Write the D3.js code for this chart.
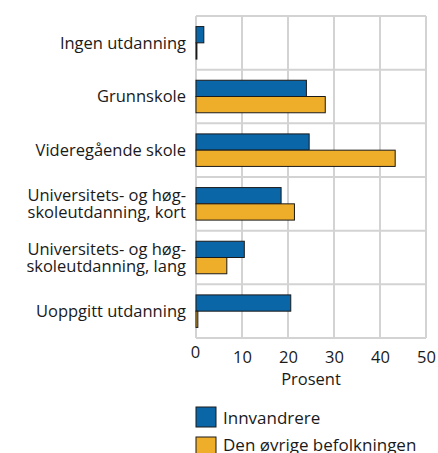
<!DOCTYPE html>
<html>
<head>
<meta charset="utf-8">
<script src="https://cdn.jsdelivr.net/npm/d3@7"></script>
<style>
  body { margin: 0; background: #fff; }
  text { font-family: "Open Sans", "Noto Sans", sans-serif; fill: #1a1a1a; }
</style>
</head>
<body>
<svg id="chart" width="438" height="453"></svg>
<script>
const categories = [
  ['Ingen utdanning'],
  ['Grunnskole'],
  ['Videregående skole'],
  ['Universitets- og høg-', 'skoleutdanning, kort'],
  ['Universitets- og høg-', 'skoleutdanning, lang'],
  ['Uoppgitt utdanning']
];
const seriesNames = ['Innvandrere', 'Den øvrige befolkningen'];
const innvandrere = [1.7, 24.0, 24.6, 18.5, 10.5, 20.6];
const ovrige = [0.2, 28.1, 43.3, 21.4, 6.7, 0.4];
const xTicks = [0, 10, 20, 30, 40, 50];

const colors = ['#0b66a7', '#efae2a'];

const svg = d3.select('#chart');
const margin = { left: 196, right: 12, top: 16, bottom: 115 };
const width = 438 - margin.left - margin.right;
const height = 453 - margin.top - margin.bottom;

const g = svg.append('g').attr('transform', `translate(${margin.left},${margin.top})`);

const x = d3.scaleLinear().domain([0, 50]).range([0, width]);
const y = d3.scaleBand().domain(d3.range(categories.length)).range([0, height]);
const inner = d3.scaleBand().domain([0, 1]).range([0, y.bandwidth()]).paddingOuter(0.65);

// grid
g.append('g').selectAll('line.v')
  .data(xTicks).join('line')
  .attr('x1', d => x(d)).attr('x2', d => x(d))
  .attr('y1', 0).attr('y2', height)
  .attr('stroke', '#d3d3d3').attr('stroke-width', 2);
g.append('g').selectAll('line.h')
  .data(d3.range(categories.length + 1)).join('line')
  .attr('x1', 0).attr('x2', width)
  .attr('y1', d => d * y.step()).attr('y2', d => d * y.step())
  .attr('stroke', '#d3d3d3').attr('stroke-width', 2);

// bars
const series = [innvandrere, ovrige];
series.forEach((vals, s) => {
  g.append('g').selectAll('rect')
    .data(vals).join('rect')
    .attr('x', x(0))
    .attr('y', (d, i) => y(i) + inner(s))
    .attr('width', d => x(d) - x(0))
    .attr('height', inner.bandwidth())
    .attr('fill', colors[s])
    .attr('stroke', '#1a1a1a')
    .attr('stroke-width', 1);
});

// category labels
const lab = g.append('g').selectAll('text')
  .data(categories).join('text')
  .attr('x', -10)
  .attr('y', (d, i) => y(i) + y.bandwidth() / 2)
  .attr('text-anchor', 'end')
  .style('font-size', '16.5px');
lab.each(function(lines) {
  const t = d3.select(this);
  lines.forEach((l, k) => {
    t.append('tspan')
      .attr('x', -10)
      .attr('dy', k === 0 ? (0.35 - (lines.length - 1) * 0.5) + 'em' : '1em')
      .text(l);
  });
});

// x axis
const xAxis = g.append('g')
  .attr('transform', `translate(0,${height})`)
  .call(d3.axisBottom(x).tickValues(xTicks).tickSize(0).tickPadding(13));
xAxis.select('.domain').remove();
xAxis.selectAll('text')
  .style('font-size', '16.5px')
  .style('font-family', '"Open Sans", "Noto Sans", sans-serif')
  .attr('fill', '#1a1a1a')
  .attr('y', d => d === 0 ? 8 : 13)
  .attr('x', d => d === 0 ? -1 : 0);

g.append('text')
  .attr('x', x(25))
  .attr('y', height + 47)
  .attr('text-anchor', 'middle')
  .style('font-size', '16.5px')
  .text('Prosent');

// legend
const leg = g.append('g').attr('transform', `translate(0,${height + 69})`);
seriesNames.forEach((name, i) => {
  leg.append('rect')
    .attr('x', 0).attr('y', i * 30)
    .attr('width', 20).attr('height', 20)
    .attr('fill', colors[i])
    .attr('stroke', '#1a1a1a').attr('stroke-width', 1);
  leg.append('text')
    .attr('x', 27).attr('y', i * 27 + 17)
    .style('font-size', '17px')
    .text(name);
});
</script>
</body>
</html>
